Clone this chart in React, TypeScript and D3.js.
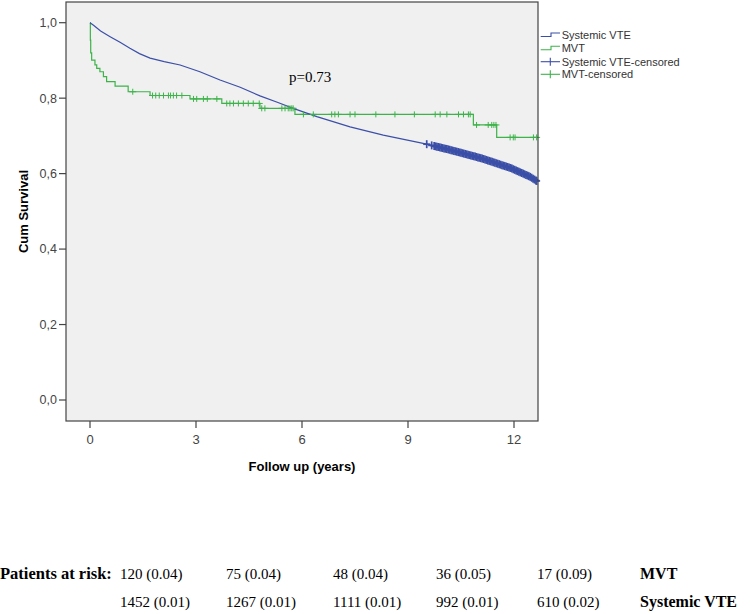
import React from "react";
import * as d3 from "d3";

// Systemic VTE (approximately continuous KM curve)
const vteTimes = [0, 0.1, 0.3, 0.57, 0.85, 1.13, 1.4, 1.7, 2.1, 2.55, 3.11, 3.68, 4.25, 4.81, 5.3, 5.75, 6.42, 7.36, 8.3, 9.53, 10.19, 11.1, 11.9, 12.45, 12.65];
const vteSurv = [1.0, 0.993, 0.978, 0.963, 0.948, 0.932, 0.918, 0.906, 0.897, 0.888, 0.87, 0.848, 0.829, 0.806, 0.789, 0.773, 0.751, 0.724, 0.702, 0.678, 0.663, 0.64, 0.615, 0.592, 0.58];
const vteCensored = [
  9.53, 9.67, 9.74, 9.78, 9.82, 9.86, 9.9, 9.94, 9.98, 10.02, 10.06, 10.1, 10.14, 10.18, 10.22, 10.26, 10.3,
  10.34, 10.38, 10.42, 10.46, 10.5, 10.54, 10.58, 10.62, 10.66, 10.7, 10.74, 10.78, 10.82, 10.86, 10.9,
  10.94, 10.98, 11.02, 11.06, 11.1, 11.14, 11.18, 11.22, 11.26, 11.3, 11.34, 11.38, 11.42, 11.46, 11.5,
  11.54, 11.58, 11.62, 11.66, 11.7, 11.74, 11.78, 11.82, 11.86, 11.9, 11.94, 11.98, 12.02, 12.06, 12.1,
  12.14, 12.18, 12.22, 12.26, 12.3, 12.34, 12.38, 12.42, 12.46, 12.5, 12.54, 12.58, 12.62, 12.64,
];

// MVT (step KM curve)
const mvtTimes = [0, 0.01, 0.02, 0.047, 0.14, 0.19, 0.28, 0.38, 0.47, 0.71, 1.08, 1.7, 2.83, 3.73, 4.81, 5.8, 10.85, 11.51, 12.68];
const mvtSurv = [1.0, 0.954, 0.92, 0.901, 0.888, 0.879, 0.87, 0.857, 0.844, 0.832, 0.817, 0.807, 0.798, 0.786, 0.773, 0.757, 0.729, 0.696, 0.696];
const mvtCensored = [
  1.21, 1.77, 1.86, 1.96, 2.08, 2.22, 2.28, 2.36, 2.45, 2.6, 2.93, 3.02, 3.21, 3.32, 3.59, 3.87, 3.96, 4.06,
  4.2, 4.34, 4.48, 4.62, 4.79, 4.86, 4.95, 5.43, 5.52, 5.61, 5.66, 5.71, 5.75, 6.04, 6.32, 6.84, 6.93, 7.03,
  7.36, 7.5, 8.09, 8.63, 9.18, 9.77, 9.91, 10.1, 10.43, 10.57, 10.71, 10.76, 10.94, 11.27, 11.37, 11.43,
  11.49, 11.89, 11.98, 12.03, 12.55, 12.64,
];

const xTicks = [0, 3, 6, 9, 12];
const yTicks = [0, 0.2, 0.4, 0.6, 0.8, 1.0];

const legendItems = ["Systemic VTE", "MVT", "Systemic VTE-censored", "MVT-censored"];
const riskLabel = "Patients at risk:";
const riskMVT = ["120 (0.04)", "75 (0.04)", "48 (0.04)", "36 (0.05)", "17 (0.09)"];
const riskVTE = ["1452 (0.01)", "1267 (0.01)", "1111 (0.01)", "992 (0.01)", "610 (0.02)"];
const pValueText = "p=0.73";

const BLUE = "#3b4fa8";
const GREEN = "#3db34a";

export default function App() {
  const left = 66, right = 538, top = 2, bottom = 421;
  const x = d3.scaleLinear().domain([0, 12]).range([90, 514]);
  const y = d3.scaleLinear().domain([0, 1]).range([400, 22.7]);

  const vteData = vteTimes.map((t, i) => [t, vteSurv[i]] as [number, number]);
  const mvtData = mvtTimes.map((t, i) => [t, mvtSurv[i]] as [number, number]);

  const lineLin = d3.line<[number, number]>().x((d) => x(d[0])).y((d) => y(d[1])).curve(d3.curveLinear);
  const lineStep = d3.line<[number, number]>().x((d) => x(d[0])).y((d) => y(d[1])).curve(d3.curveStepAfter);

  const vteAt = (t: number) => {
    const i = d3.bisectRight(vteTimes, t);
    if (i <= 0) return vteSurv[0];
    if (i >= vteTimes.length) return vteSurv[vteSurv.length - 1];
    const t0 = vteTimes[i - 1], t1 = vteTimes[i];
    return d3.interpolateNumber(vteSurv[i - 1], vteSurv[i])((t - t0) / (t1 - t0));
  };
  const mvtAt = (t: number) => {
    const i = d3.bisectRight(mvtTimes, t);
    return mvtSurv[Math.max(0, i - 1)];
  };

  const sans = "'Liberation Sans', Arial, sans-serif";
  const serif = "'Liberation Serif', 'Times New Roman', serif";
  const fmt = (v: number) => d3.format(".1f")(v).replace(".", ",");

  const colX = [120, 226, 333, 436, 537];
  const legendY = [35, 48.3, 61.7, 74.3];

  return (
    <svg width={750} height={614} style={{ position: "absolute", left: 0, top: 0, background: "#fff" }}>
      <rect x={left} y={top} width={right - left} height={bottom - top} fill="#f0f0f0" stroke="none" />
      {/* curves */}
      <path d={lineStep(mvtData) ?? ""} fill="none" stroke={GREEN} strokeWidth={1.2} />
      <path d={lineLin(vteData) ?? ""} fill="none" stroke={BLUE} strokeWidth={1.2} />
      {mvtCensored.map((t, i) => (
        <g key={"mc" + i} stroke={GREEN} strokeWidth={1}>
          <line x1={x(t) - 3.5} x2={x(t) + 3.5} y1={y(mvtAt(t))} y2={y(mvtAt(t))} />
          <line x1={x(t)} x2={x(t)} y1={y(mvtAt(t)) - 3} y2={y(mvtAt(t)) + 3} />
        </g>
      ))}
      {vteCensored.map((t, i) => (
        <g key={"vc" + i} stroke={BLUE} strokeWidth={1.7}>
          <line x1={x(t) - 3.5} x2={x(t) + 3.5} y1={y(vteAt(t))} y2={y(vteAt(t))} />
          <line x1={x(t)} x2={x(t)} y1={y(vteAt(t)) - 4} y2={y(vteAt(t)) + 4} />
        </g>
      ))}
      {/* frame */}
      <rect x={left} y={top} width={right - left} height={bottom - top} fill="none" stroke="#444" strokeWidth={1.2} />
      {/* y axis */}
      {yTicks.map((v) => (
        <g key={"y" + v}>
          <line x1={left - 7} x2={left} y1={y(v)} y2={y(v)} stroke="#444" strokeWidth={1.2} />
          <text x={left - 9} y={y(v)} dy="0.35em" textAnchor="end" fontFamily={sans} fontSize={12.5} fill="#444">
            {fmt(v)}
          </text>
        </g>
      ))}
      {/* x axis */}
      {xTicks.map((v) => (
        <g key={"x" + v}>
          <line x1={x(v)} x2={x(v)} y1={bottom} y2={bottom + 7} stroke="#444" strokeWidth={1.2} />
          <text x={x(v)} y={444} textAnchor="middle" fontFamily={sans} fontSize={13} fill="#444">
            {v}
          </text>
        </g>
      ))}
      <text x={(left + right) / 2} y={471} textAnchor="middle" fontFamily={sans} fontWeight="bold" fontSize={13} fill="#000">
        Follow up (years)
      </text>
      <text
        transform={`translate(28,${(top + bottom) / 2}) rotate(-90)`}
        textAnchor="middle"
        fontFamily={sans}
        fontWeight="bold"
        fontSize={13}
        fill="#000"
      >
        Cum Survival
      </text>
      {/* p value */}
      <text x={289} y={82} fontFamily={serif} fontSize={15} fill="#000">
        {pValueText}
      </text>
      {/* legend */}
      {legendItems.map((label, i) => {
        const ly = legendY[i];
        const color = i % 2 === 0 ? BLUE : GREEN;
        return (
          <g key={label}>
            {i < 2 ? (
              <path d={`M540.7,${ly + 1.5}H551V${ly - 2}H560`} fill="none" stroke={color} strokeWidth={1.1} />
            ) : (
              <g stroke={color} strokeWidth={1.1}>
                <line x1={540.7} x2={560} y1={ly} y2={ly} />
                <line x1={550.3} x2={550.3} y1={ly - 4} y2={ly + 4} />
              </g>
            )}
            <text x={561.7} y={ly} dy="0.35em" fontFamily={sans} fontSize={11} fill="#333">
              {label}
            </text>
          </g>
        );
      })}
      {/* patients at risk */}
      <text x={0} y={579} fontFamily={serif} fontWeight="bold" fontSize={16.5} fill="#000">
        {riskLabel}
      </text>
      {riskMVT.map((s, i) => (
        <text key={"rm" + i} x={colX[i]} y={579} fontFamily={serif} fontSize={15} fill="#000">
          {s}
        </text>
      ))}
      <text x={640} y={579} fontFamily={serif} fontWeight="bold" fontSize={16} fill="#000">
        MVT
      </text>
      {riskVTE.map((s, i) => (
        <text key={"rv" + i} x={colX[i]} y={607} fontFamily={serif} fontSize={15} fill="#000">
          {s}
        </text>
      ))}
      <text x={640} y={607} fontFamily={serif} fontWeight="bold" fontSize={16} fill="#000">
        Systemic VTE
      </text>
    </svg>
  );
}
